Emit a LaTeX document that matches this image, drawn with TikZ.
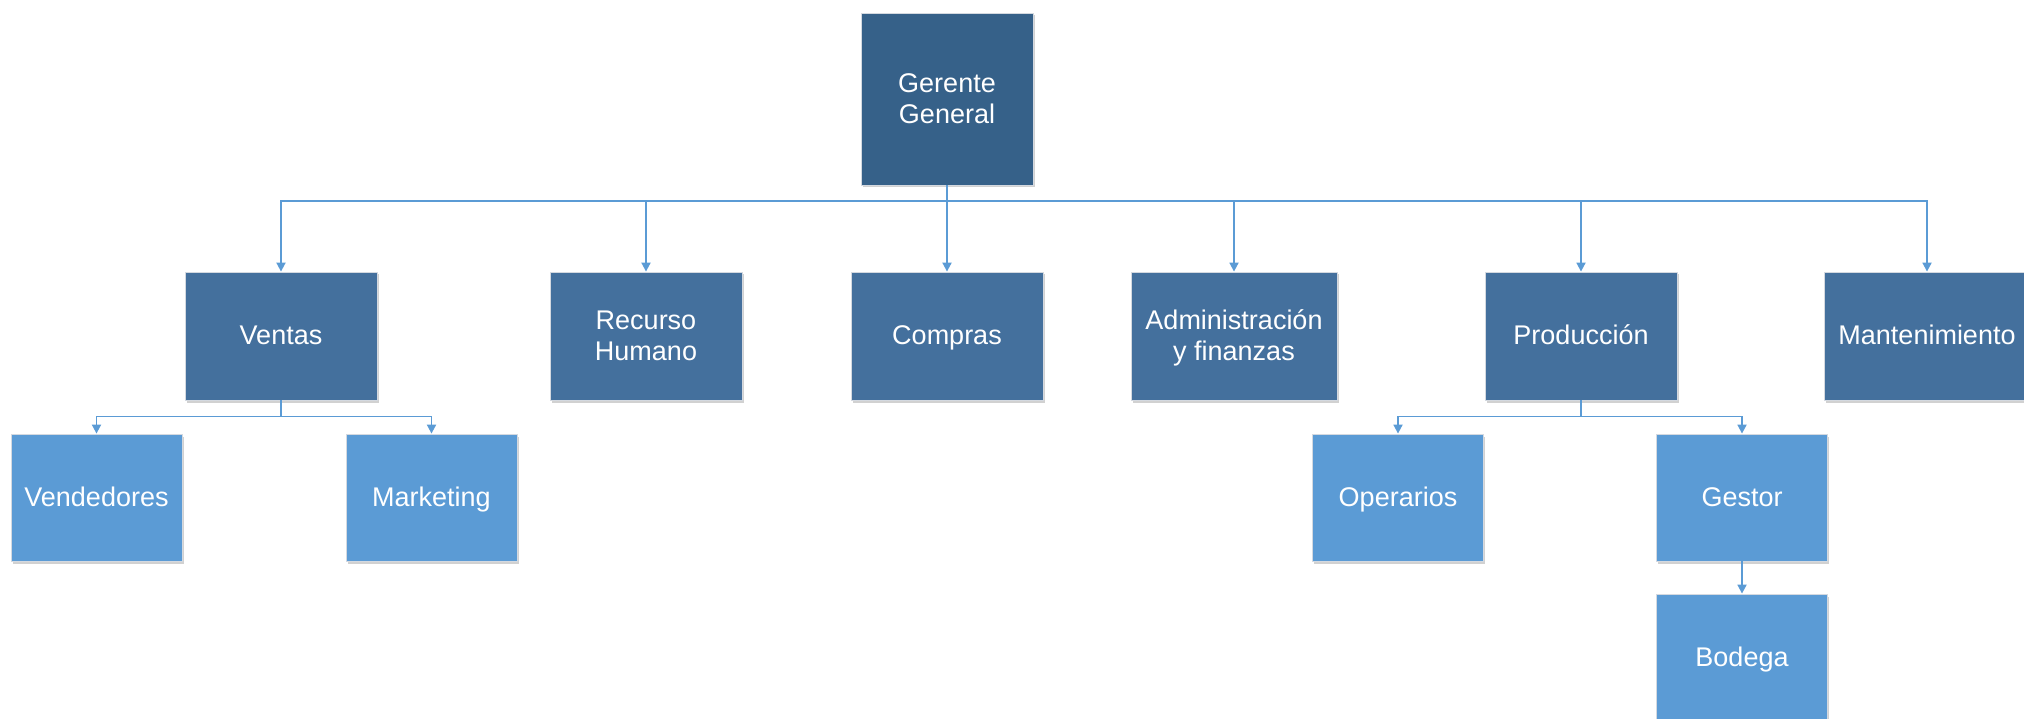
\documentclass[tikz,border=0pt]{standalone}
\usepackage{fontspec}
\setmainfont{Liberation Sans}
\usetikzlibrary{arrows.meta,shadows}
\definecolor{topblue}{HTML}{366189}
\definecolor{midblue}{HTML}{44709D}
\definecolor{lowblue}{HTML}{5B9BD5}
\definecolor{edgegray}{HTML}{D4D9E0}
% a strut that is a little taller than \strut, so labels sit slightly lower
\newcommand\tallstrut{\rule[-9.3pt]{0pt}{36pt}}
\tikzset{
  unit/.style={rectangle, inner sep=0pt, align=center, text=white,
    font=\fontsize{27}{31}\selectfont, draw=edgegray, line width=0.8pt,
    drop shadow={shadow xshift=1.5pt, shadow yshift=-2.5pt, opacity=0.18, fill=black}},
  head/.style={unit, fill=topblue, minimum width=172pt, minimum height=172pt},
  dept/.style={unit, fill=midblue, minimum width=192pt, minimum height=128pt},
  team/.style={unit, fill=lowblue, minimum width=171pt, minimum height=127pt},
  link/.style={draw=lowblue, line width=1.8pt,
    -{Triangle[length=9pt,width=9pt]}},
}
\begin{document}
\begin{tikzpicture}[x=1pt,y=-1pt]
\useasboundingbox (0,0) rectangle (2024,719);

% top of the chart
\node[head] (gg) at (947,99) {Gerente\tallstrut\\General\strut};

% departments
\node[dept] (ventas) at (281,336) {Ventas\tallstrut};
\node[dept] (rrhh) at (646,336) {Recurso\tallstrut\\Humano\strut};
\node[dept] (compras) at (947,336) {Compras\tallstrut};
\node[dept, minimum width=206pt] (admin) at (1234,336) {Administración\tallstrut\\y finanzas\strut};
\node[dept] (prod) at (1581,336) {Producción\tallstrut};
\node[dept, minimum width=206pt] (mant) at (1927,336) {Mantenimiento\tallstrut};

% teams
\node[team] (vend) at (96.5,497.5) {Vendedores\tallstrut};
\node[team] (mkt) at (431.5,497.5) {Marketing\tallstrut};
\node[team] (oper) at (1398,497.5) {Operarios\tallstrut};
\node[team] (gestor) at (1742,497.5) {Gestor\tallstrut};
\node[team] (bodega) at (1742,657.5) {Bodega\tallstrut};

% connectors from the general manager
\foreach \d in {ventas,rrhh,compras,admin,prod,mant}
  \draw[link] (gg.south) -- ++(0,16) -| (\d.north);

% connectors below sales
\foreach \d in {vend,mkt}
  \draw[link] (ventas.south) -- ++(0,16) -| (\d.north);

% connectors below production
\foreach \d in {oper,gestor}
  \draw[link] (prod.south) -- ++(0,16) -| (\d.north);

\draw[link] (gestor) -- (bodega);
\end{tikzpicture}
\end{document}
